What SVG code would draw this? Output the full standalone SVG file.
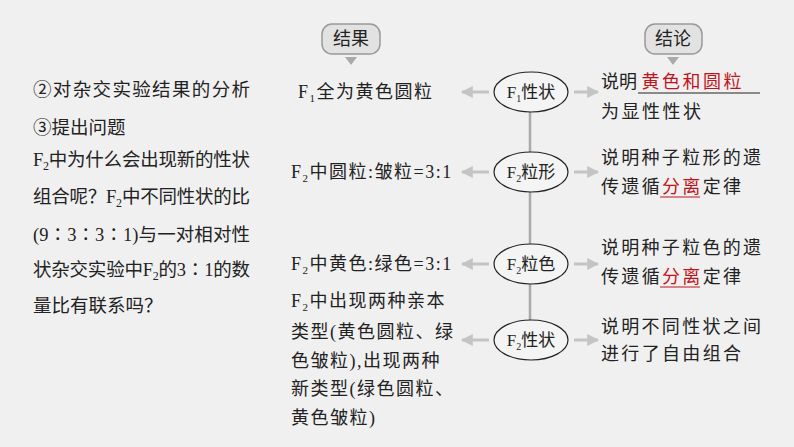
<svg xmlns="http://www.w3.org/2000/svg" width="794" height="447" viewBox="0 0 794 447">
<style>
text{font-family:"Liberation Serif","Noto Sans CJK SC",serif;fill:#222;}
.l{font-size:18.5px}
.m{font-size:18px;letter-spacing:1.5px}
.r{font-size:18px}
.n{font-size:17px}
.e{fill:#f4f4f4;stroke:#222;stroke-width:1.2}
.red{fill:#c0141c}
.ln{stroke:#aaa;stroke-width:2.5;fill:none}
.ar{stroke:#c4c4c4;stroke-width:3;fill:none}
.tag{fill:#e2e2e2;stroke:#999;stroke-width:1.5}
</style>
<defs><marker id="a" viewBox="0 0 10 10" refX="9" refY="5" markerWidth="4" markerHeight="4" orient="auto"><path d="M0,0L10,5L0,10z" fill="#c4c4c4"/></marker></defs>
<rect width="794" height="447" fill="#f0f0f0"/>
<g id="left">
<text class="l" x="33" y="96" textLength="217" lengthAdjust="spacing">②对杂交实验结果的分析</text>
<text class="l" x="33" y="134">③提出问题</text>
<text class="l" x="33" y="166" textLength="217" lengthAdjust="spacing">F<tspan font-size="12" dy="4">2</tspan><tspan dy="-4">中为什么会出现新的性状</tspan></text>
<text class="l" x="33" y="203" textLength="217" lengthAdjust="spacing">组合呢？F<tspan font-size="12" dy="4">2</tspan><tspan dy="-4">中不同性状的比</tspan></text>
<text class="l" x="33" y="241" textLength="217" lengthAdjust="spacing">(9∶3∶3∶1)与一对相对性</text>
<text class="l" x="33" y="276" textLength="217" lengthAdjust="spacing">状杂交实验中F<tspan font-size="12" dy="4">2</tspan><tspan dy="-4">的3∶1的数</tspan></text>
<text class="l" x="33" y="312">量比有联系吗？</text>
</g>
<g id="tag1"><rect class="tag" x="322" y="24" width="58" height="30" rx="10"/><text class="r" x="351" y="45" text-anchor="middle">结果</text><path d="M345,57h12l-6,8z" fill="#aaa"/></g>
<g id="tag2"><rect class="tag" x="645" y="24" width="57" height="30" rx="10"/><text class="r" x="673" y="45" text-anchor="middle">结论</text><path d="M667,57h12l-6,8z" fill="#aaa"/></g>
<g id="connectors">
<line class="ln" x1="530" y1="112" x2="530" y2="152"/>
<line class="ln" x1="530" y1="192" x2="530" y2="244"/>
<line class="ln" x1="530" y1="284" x2="530" y2="320"/>
<line class="ar" x1="489" y1="92" x2="462" y2="92" marker-end="url(#a)"/>
<line class="ar" x1="489" y1="172" x2="462" y2="172" marker-end="url(#a)"/>
<line class="ar" x1="489" y1="264" x2="462" y2="264" marker-end="url(#a)"/>
<line class="ar" x1="489" y1="340" x2="462" y2="340" marker-end="url(#a)"/>
<line class="ar" x1="574" y1="92" x2="598" y2="92" marker-end="url(#a)"/>
<line class="ar" x1="574" y1="172" x2="598" y2="172" marker-end="url(#a)"/>
<line class="ar" x1="574" y1="264" x2="598" y2="264" marker-end="url(#a)"/>
<line class="ar" x1="574" y1="340" x2="598" y2="340" marker-end="url(#a)"/>
</g>
<g id="n1"><ellipse class="e" cx="531" cy="92" rx="37" ry="20"/><text class="n" x="531" y="98" text-anchor="middle">F<tspan font-size="10" dy="4">1</tspan><tspan dy="-4">性状</tspan></text></g>
<g id="n2"><ellipse class="e" cx="531" cy="172" rx="37" ry="20"/><text class="n" x="531" y="178" text-anchor="middle">F<tspan font-size="10" dy="4">2</tspan><tspan dy="-4">粒形</tspan></text></g>
<g id="n3"><ellipse class="e" cx="531" cy="264" rx="37" ry="20"/><text class="n" x="531" y="270" text-anchor="middle">F<tspan font-size="10" dy="4">2</tspan><tspan dy="-4">粒色</tspan></text></g>
<g id="n4"><ellipse class="e" cx="531" cy="340" rx="37" ry="20"/><text class="n" x="531" y="346" text-anchor="middle">F<tspan font-size="10" dy="4">2</tspan><tspan dy="-4">性状</tspan></text></g>
<g id="res">
<text class="m" x="298" y="98">F<tspan font-size="11" dy="4">1</tspan><tspan dy="-4">全为黄色圆粒</tspan></text>
<text class="m" x="291" y="178" letter-spacing="0.5">F<tspan font-size="11" dy="4">2</tspan><tspan dy="-4">中圆粒:皱粒=3:1</tspan></text>
<text class="m" x="291" y="270" letter-spacing="0.5">F<tspan font-size="11" dy="4">2</tspan><tspan dy="-4">中黄色:绿色=3:1</tspan></text>
<text class="m" x="291" y="307">F<tspan font-size="11" dy="4">2</tspan><tspan dy="-4">中出现两种亲本</tspan></text>
<text class="m" x="291" y="338">类型(黄色圆粒、绿</text>
<text class="m" x="291" y="367">色皱粒),出现两种</text>
<text class="m" x="291" y="395">新类型(绿色圆粒、</text>
<text class="m" x="291" y="424">黄色皱粒)</text>
</g>
<g id="con">
<text class="r" x="601" y="88">说明 <tspan class="red" letter-spacing="2.5">黄色和圆粒</tspan></text>
<line x1="638" y1="93" x2="760" y2="93" stroke="#222"/>
<text class="r" x="601" y="118" textLength="100" lengthAdjust="spacing">为显性性状</text>
<text class="r" x="601" y="164" textLength="160" lengthAdjust="spacing">说明种子粒形的遗</text>
<text class="r" x="601" y="193" textLength="140" lengthAdjust="spacing">传遗循<tspan class="red">分离</tspan>定律</text>
<line x1="660" y1="197" x2="700" y2="197" stroke="#c0141c"/>
<text class="r" x="601" y="254" textLength="160" lengthAdjust="spacing">说明种子粒色的遗</text>
<text class="r" x="601" y="283" textLength="140" lengthAdjust="spacing">传遗循<tspan class="red">分离</tspan>定律</text>
<line x1="660" y1="287" x2="700" y2="287" stroke="#c0141c"/>
<text class="r" x="601" y="333" textLength="160" lengthAdjust="spacing">说明不同性状之间</text>
<text class="r" x="601" y="360" textLength="140" lengthAdjust="spacing">进行了自由组合</text>
</g>
</svg>
